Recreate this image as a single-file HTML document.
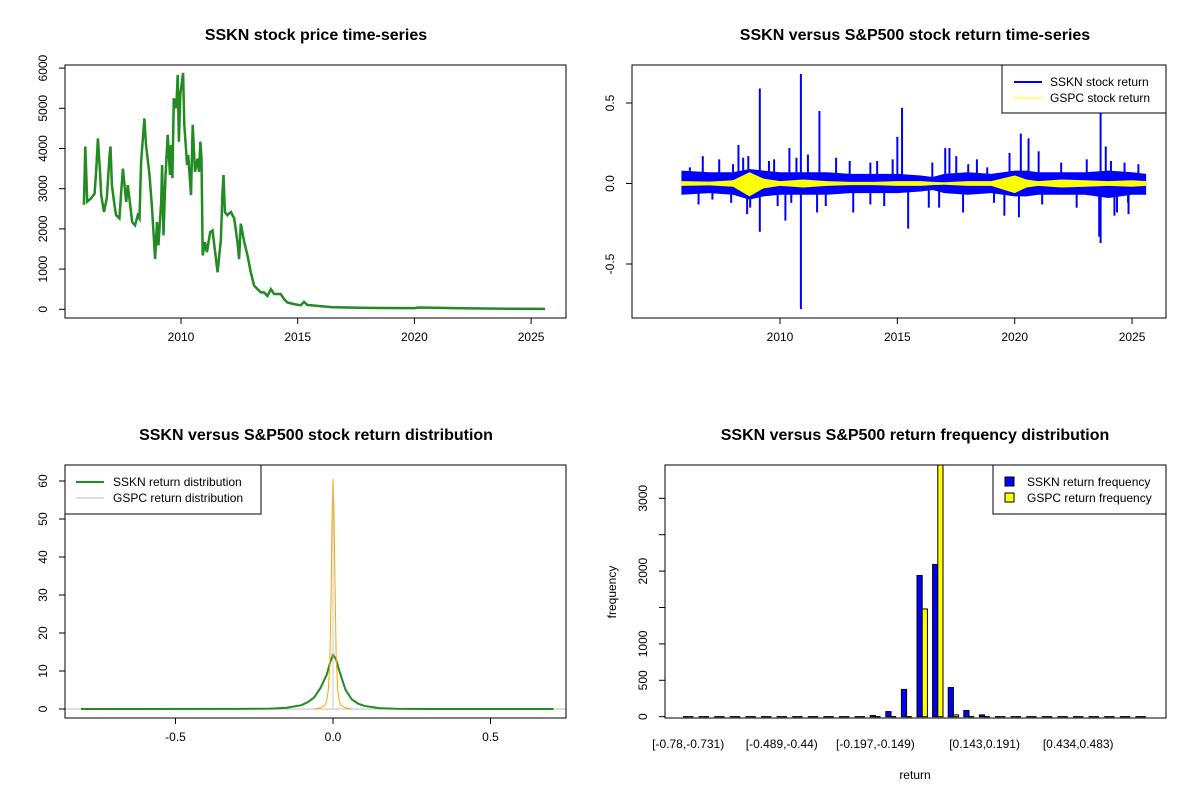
<!DOCTYPE html>
<html><head><meta charset="utf-8"><style>
body{margin:0;background:#fff}
svg text{font-family:"Liberation Sans",Arial,sans-serif;fill:#000}
.t{font-size:16px;font-weight:bold}
.l{font-size:12px}
</style></head><body>
<svg id="s" width="1200" height="800" xmlns="http://www.w3.org/2000/svg">
<rect width="1200" height="800" fill="#fff"/>
<text class="t" x="316" y="40" text-anchor="middle">SSKN stock price time-series</text>
<text class="t" x="915" y="40" text-anchor="middle">SSKN versus S&amp;P500 stock return time-series</text>
<text class="t" x="316" y="440" text-anchor="middle">SSKN versus S&amp;P500 stock return distribution</text>
<text class="t" x="915" y="440" text-anchor="middle">SSKN versus S&amp;P500 return frequency distribution</text>
</svg>
<script>
// ---- price chart data ----
const priceYears=[2005.84,2005.9,2005.98,2006.15,2006.3,2006.37,2006.44,2006.54,2006.58,2006.7,2006.82,2006.94,2006.98,2007.04,2007.15,2007.22,2007.36,2007.44,2007.51,2007.65,2007.72,2007.91,2008.03,2008.15,2008.22,2008.29,2008.43,2008.5,2008.65,2008.75,2008.82,2008.89,2008.97,2009.03,2009.15,2009.19,2009.25,2009.33,2009.43,2009.53,2009.57,2009.63,2009.69,2009.8,2009.86,2009.91,2009.97,2010.09,2010.14,2010.26,2010.31,2010.43,2010.5,2010.6,2010.71,2010.77,2010.83,2010.88,2010.93,2011.03,2011.11,2011.25,2011.35,2011.5,2011.57,2011.71,2011.78,2011.82,2011.88,2011.99,2012.14,2012.28,2012.42,2012.49,2012.56,2012.71,2012.85,2012.99,2013.13,2013.28,2013.42,2013.56,2013.7,2013.85,2013.99,2014.27,2014.42,2014.56,2014.84,2015.13,2015.27,2015.41,2015.84,2016.5,2018,2020,2020.2,2022,2024,2025.6];
const priceValues=[2600,4050,2680,2760,2880,3500,4250,3340,2840,2420,2760,3840,4050,3090,2590,2340,2260,2920,3500,2670,3090,2170,2090,2340,2260,3670,4750,4090,3340,2590,1920,1250,2170,1590,2670,3590,1840,3260,4340,3340,4090,3260,5250,5000,5830,4170,5340,5880,4590,3590,3840,2840,4590,3420,3750,3420,4170,3750,1340,1670,1420,1920,1960,1250,920,1750,2920,3340,2420,2340,2420,2260,1670,1250,2130,1670,1340,920,590,500,420,420,330,500,380,380,250,170,130,100,185,110,85,50,35,30,45,25,15,10];
const priceTicks=[0,1000,2000,3000,4000,5000,6000];
const yearTicks=[2010,2015,2020,2025];
// ---- return chart data ----
const bandYears=[2005.8,2007,2008,2008.7,2009.3,2010,2011,2012,2013,2014,2015,2016,2016.5,2017,2018,2019,2020,2020.5,2021,2022,2023,2024,2025,2025.6];
const ssknUpper=[0.08,0.07,0.07,0.09,0.08,0.07,0.07,0.07,0.06,0.06,0.06,0.05,0.04,0.06,0.07,0.06,0.08,0.08,0.07,0.07,0.07,0.08,0.07,0.06];
const ssknLower=[-0.07,-0.06,-0.07,-0.1,-0.08,-0.07,-0.07,-0.07,-0.06,-0.06,-0.06,-0.05,-0.04,-0.06,-0.07,-0.06,-0.08,-0.08,-0.07,-0.07,-0.07,-0.09,-0.07,-0.07];
const gspcUpper=[0.015,0.012,0.02,0.07,0.03,0.015,0.025,0.015,0.01,0.01,0.015,0.015,0.01,0.008,0.015,0.015,0.05,0.025,0.015,0.025,0.02,0.015,0.02,0.015];
const gspcLower=[-0.015,-0.012,-0.02,-0.08,-0.03,-0.015,-0.025,-0.015,-0.01,-0.01,-0.015,-0.015,-0.01,-0.008,-0.015,-0.015,-0.06,-0.025,-0.015,-0.025,-0.02,-0.015,-0.02,-0.015];
const spikeYears=[2009.14,2009.14,2010.89,2010.89,2011.68,2015.2,2015.0,2015.46,2020.26,2020.59,2023.66,2023.66,2023.88,2008.23,2010.23,2010.4,2017.04,2017.22,2019.56,2020.18,2023.6,2008.6,2024.85,2019.78,2021.02,
2006.16,2006.71,2007.41,2008.0,2008.43,2008.65,2009.53,2009.75,2010.7,2011.19,2012.39,2012.97,2013.85,2014.14,2014.8,2016.49,2017.51,2018.02,2018.39,2018.83,2021.98,2023.07,2024.1,2024.68,2025.27,
2006.53,2007.12,2007.92,2008.73,2009.9,2010.48,2011.58,2011.95,2013.12,2013.85,2014.44,2016.34,2016.78,2017.8,2019.12,2021.17,2022.64,2024.25,2024.36,2024.83];
const spikeValues=[0.59,-0.30,0.68,-0.78,0.45,0.47,0.29,-0.28,0.31,0.28,0.46,-0.37,0.23,0.24,-0.23,0.22,0.22,0.22,-0.20,-0.21,-0.33,-0.19,-0.19,0.19,0.2,
0.1,0.17,0.15,0.12,0.16,0.17,0.14,0.15,0.16,0.18,0.16,0.14,0.13,0.14,0.15,0.13,0.17,0.12,0.15,0.10,0.13,0.15,0.14,0.13,0.12,
-0.13,-0.1,-0.12,-0.15,-0.14,-0.12,-0.18,-0.14,-0.18,-0.13,-0.14,-0.15,-0.15,-0.18,-0.12,-0.13,-0.15,-0.2,-0.18,-0.12];
const returnTicks=[-0.5,0,0.5];
// ---- density data ----
const ssknDensX=[-0.8,-0.3,-0.2,-0.15,-0.1,-0.08,-0.06,-0.04,-0.02,-0.01,0,0.01,0.02,0.04,0.06,0.08,0.1,0.15,0.2,0.3,0.7];
const ssknDensY=[0,0.02,0.1,0.3,1,1.8,3,5.5,9,12,14.3,13,10,5,2.5,1.4,0.8,0.2,0.05,0.01,0];
const gspcDensX=[-0.06,-0.04,-0.025,-0.02,-0.015,-0.01,-0.006,-0.003,0,0.003,0.006,0.01,0.015,0.02,0.025,0.04,0.06];
const gspcDensY=[0,0.3,1,2,5,12,30,50,60.5,52,35,14,5,2,1,0.3,0];
const densXTicks=[-0.5,0,0.5];
const densYTicks=[0,10,20,30,40,50,60];
// ---- histogram data ----
const binLabels=["[-0.78,-0.731)","","","","","","[-0.489,-0.44)","","","","","","[-0.197,-0.149)","","","","","","","[0.143,0.191)","","","","","","[0.434,0.483)","","","",""];
const ssknFreq=[1,0,0,0,0,0,0,0,0,0,0,0,15,70,375,1940,2090,400,85,25,10,8,0,0,0,12,0,0,0,1];
const gspcFreq=[0,0,0,0,0,0,0,0,0,0,0,0,0,0,12,1480,3700,25,0,0,0,0,0,0,0,0,0,0,0,0];
const freqTicks=[0,500,1000,1500,2000,2500,3000];

const S=document.getElementById('s'),NS='http://www.w3.org/2000/svg';
function mk(tag,at,parent){const e=document.createElementNS(NS,tag);for(const k in at)e.setAttribute(k,at[k]);(parent||S).appendChild(e);return e;}
function txt(x,y,s,cls,anchor,rot){const e=mk('text',{x:x,y:y,class:cls||'l','text-anchor':anchor||'middle'});if(rot)e.setAttribute('transform','rotate(-90 '+x+' '+y+')');e.textContent=s;return e;}

// ===== Panel 1: price =====
const p1={l:65,r:566,t:65,b:318};
const px1=y=>181+(y-2010)*23.34, py1=v=>309.3-v*0.0402;
let g=mk('g',{});


let pts=priceYears.map((y,i)=>px1(y).toFixed(1)+','+py1(priceValues[i]).toFixed(1)).join(' ');
let ln=mk('polyline',{points:pts,fill:'none',stroke:'#228B22','stroke-width':2.5},g);


mk('rect',{x:p1.l,y:p1.t,width:p1.r-p1.l,height:p1.b-p1.t,fill:'none',stroke:'#000'},g);
priceTicks.forEach(v=>{const y=py1(v);mk('line',{x1:p1.l-6,x2:p1.l,y1:y,y2:y,stroke:'#000'},g);
 const t=txt(p1.l-18,y,String(v),'l','middle',true);});
yearTicks.forEach(v=>{const x=px1(v);mk('line',{x1:x,x2:x,y1:p1.b,y2:p1.b+6,stroke:'#000'},g);
 const t=txt(x,p1.b+23,String(v));});

// ===== Panel 2: returns =====
const p2={l:632,r:1166,t:65,b:318};
const px2=y=>780+(y-2010)*23.47, py2=v=>183.5-v*161;
g=mk('g',{});


function band(up,lo,col,name){let a=bandYears.map((y,i)=>px2(y)+','+py2(up[i])),b=bandYears.map((y,i)=>px2(y)+','+py2(lo[i])).reverse();
 const e=mk('polygon',{points:a.concat(b).join(' '),fill:col,stroke:'none'},g);
 
 }
band(ssknUpper,ssknLower,'#0000FF','sskn-return-band');
spikeYears.forEach((y,i)=>{const e=mk('line',{x1:px2(y),x2:px2(y),y1:py2(0),y2:py2(spikeValues[i]),stroke:'#0000FF','stroke-width':2},g);
 
 });
band(gspcUpper,gspcLower,'#FFFF00','gspc-return-band');
mk('rect',{x:p2.l,y:p2.t,width:p2.r-p2.l,height:p2.b-p2.t,fill:'none',stroke:'#000'},g);
returnTicks.forEach(v=>{const y=py2(v);mk('line',{x1:p2.l-6,x2:p2.l,y1:y,y2:y,stroke:'#000'},g);
 const t=txt(p2.l-18,y,v.toFixed(1),'l','middle',true);});
yearTicks.forEach(v=>{const x=px2(v);mk('line',{x1:x,x2:x,y1:p2.b,y2:p2.b+6,stroke:'#000'},g);
 const t=txt(x,p2.b+23,String(v));});
let lg=mk('g',{});


mk('rect',{x:1002,y:65,width:164,height:48,fill:'#fff',stroke:'#000'},lg);
mk('line',{x1:1014,x2:1042,y1:82,y2:82,stroke:'#0000FF','stroke-width':2},lg);
mk('line',{x1:1014,x2:1042,y1:98,y2:98,stroke:'#FFFF00','stroke-width':1},lg);
lg.appendChild(txt(1050,86,'SSKN stock return','l','start'));
lg.appendChild(txt(1050,102,'GSPC stock return','l','start'));

// ===== Panel 3: density =====
const p3={l:65,r:566,t:465,b:718};
const px3=x=>333+x*315, py3=v=>709-v*3.8;
g=mk('g',{});


mk('line',{x1:p3.l,x2:p3.r,y1:py3(0),y2:py3(0),stroke:'#BEBEBE'},g);
let d1=mk('polyline',{points:ssknDensX.map((x,i)=>px3(x)+','+py3(ssknDensY[i])).join(' '),fill:'none',stroke:'#228B22','stroke-width':2},g);


let d2=mk('polyline',{points:gspcDensX.map((x,i)=>px3(x)+','+py3(gspcDensY[i])).join(' '),fill:'none',stroke:'#FFA500','stroke-width':1},g);


mk('line',{x1:px3(0),x2:px3(0),y1:py3(0),y2:py3(58),stroke:'#BEBEBE','stroke-width':0.8},g);
mk('rect',{x:p3.l,y:p3.t,width:p3.r-p3.l,height:p3.b-p3.t,fill:'none',stroke:'#000'},g);
densYTicks.forEach(v=>{const y=py3(v);mk('line',{x1:p3.l-6,x2:p3.l,y1:y,y2:y,stroke:'#000'},g);
 const t=txt(p3.l-18,y,String(v),'l','middle',true);});
densXTicks.forEach(v=>{const x=px3(v);mk('line',{x1:x,x2:x,y1:p3.b,y2:p3.b+6,stroke:'#000'},g);
 const t=txt(x,p3.b+23,v.toFixed(1));});
lg=mk('g',{});


mk('rect',{x:65,y:465,width:196,height:49,fill:'#fff',stroke:'#000'},lg);
mk('line',{x1:76,x2:104,y1:482,y2:482,stroke:'#228B22','stroke-width':2},lg);
mk('line',{x1:76,x2:104,y1:498,y2:498,stroke:'#BEBEBE','stroke-width':1},lg);
lg.appendChild(txt(113,486,'SSKN return distribution','l','start'));
lg.appendChild(txt(113,502,'GSPC return distribution','l','start'));

// ===== Panel 4: histogram =====
const p4={l:665,r:1166,t:465,b:718};
const bw=5.2, bx=i=>683+i*15.6, py4=v=>716.7-v*0.0728, base=716.7;
g=mk('g',{});


const clip=mk('clipPath',{id:'c4'},g);mk('rect',{x:p4.l,y:p4.t,width:p4.r-p4.l,height:p4.b-p4.t},clip);
const bars=mk('g',{'clip-path':'url(#c4)'},g);
function bar(x,v,col,name){
 let r;
 if(py4(v)>base-1){r=mk('line',{x1:x,x2:x+bw,y1:base,y2:base,stroke:'#000','stroke-width':1.2},bars);}
 else{const y=py4(v);r=mk('rect',{x:x,y:y,width:bw,height:base-y,fill:col,stroke:'#000','stroke-width':1},bars);}
 
 
}
ssknFreq.forEach((v,i)=>{bar(bx(i),v,'#0000FF','sskn-freq-bar');bar(bx(i)+bw,gspcFreq[i],'#FFFF00','gspc-freq-bar');
 if(binLabels[i]){const t=txt(bx(i)+bw,748,binLabels[i]);}});
mk('rect',{x:p4.l,y:p4.t,width:p4.r-p4.l,height:p4.b-p4.t,fill:'none',stroke:'#000'},g);
freqTicks.forEach(v=>{const y=py4(v);mk('line',{x1:p4.l-6,x2:p4.l,y1:y,y2:y,stroke:'#000'},g);
 if(v%1000===0||v===500){const t=txt(p4.l-18,y,String(v),'l','middle',true);}});
let yl=txt(616,592,'frequency','l','middle',true);


let xl=txt(915,779,'return');


lg=mk('g',{});


mk('rect',{x:993,y:465,width:173,height:49,fill:'#fff',stroke:'#000'},lg);
mk('rect',{x:1005,y:477,width:9,height:9,fill:'#0000FF',stroke:'#000'},lg);
mk('rect',{x:1005,y:493,width:9,height:9,fill:'#FFFF00',stroke:'#000'},lg);
lg.appendChild(txt(1027,486,'SSKN return frequency','l','start'));
lg.appendChild(txt(1027,502,'GSPC return frequency','l','start'));
</script>
</body></html>
